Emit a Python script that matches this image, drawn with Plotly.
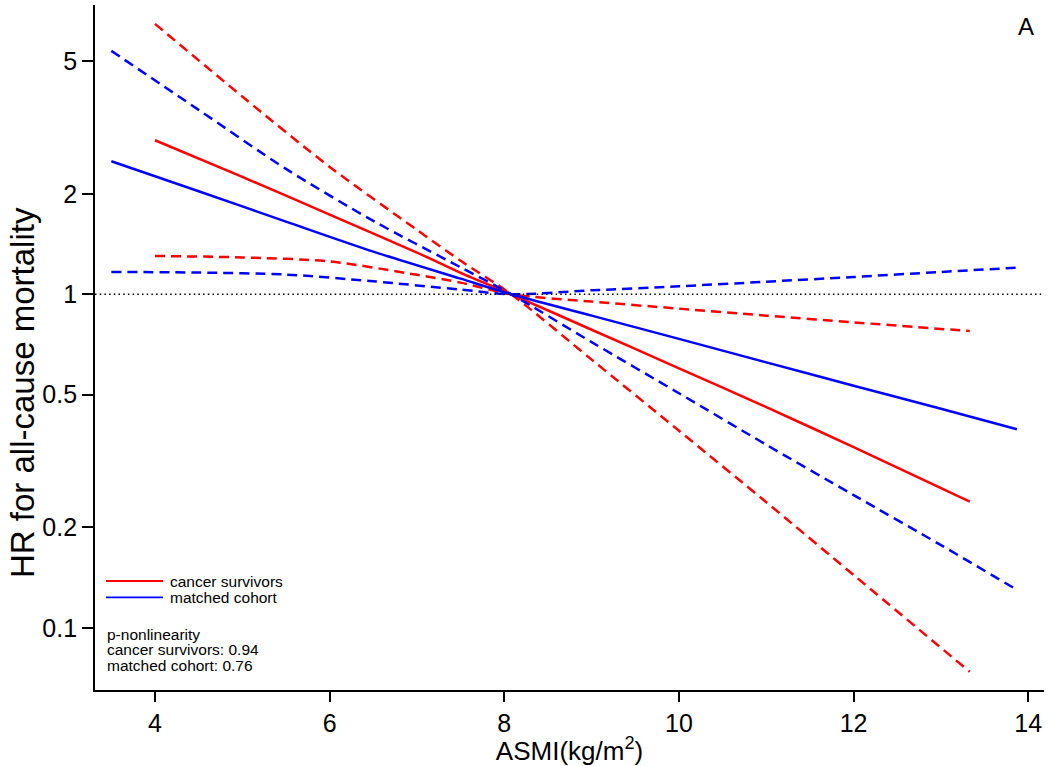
import plotly.graph_objects as go
import numpy as np

# ---------------- data ----------------
# cancer survivors (red)
cs_x = [4.0, 5.0, 6.0, 7.0, 7.5, 8.08, 9.0, 10.0, 11.0, 12.0, 13.33]
cs_hr = [2.897, 2.249, 1.734, 1.334, 1.160, 1.0, 0.783, 0.600, 0.459, 0.348, 0.239]
cs_ci_steep = [6.47, 3.917, 2.41, 1.56, 1.26, 1.0, 0.637, 0.390, 0.238, 0.144, 0.0738]
cs_ci_flat = [1.303, 1.290, 1.255, 1.144, 1.084, 1.0, 0.951, 0.906, 0.863, 0.824, 0.776]

# matched cohort (blue)
mc_x = [3.5, 4.5, 5.5, 6.5, 7.5, 8.08, 9.0, 10.0, 11.0, 12.0, 13.0, 13.87]
mc_hr = [2.506, 2.037, 1.652, 1.343, 1.114, 1.0, 0.863, 0.735, 0.625, 0.532, 0.454, 0.394]
mc_ci_steep = [5.37, 3.573, 2.377, 1.660, 1.205, 1.0, 0.719, 0.505, 0.354, 0.250, 0.177, 0.130]
mc_ci_flat = [1.167, 1.162, 1.146, 1.094, 1.033, 1.0, 1.028, 1.057, 1.091, 1.127, 1.167, 1.202]

series_names = ["cancer survivors", "matched cohort"]
series_colors = ["#FF0000", "#0000FF"]
p_nonlinearity = [0.94, 0.76]

x_ticks = [4, 6, 8, 10, 12, 14]
y_ticks = [0.1, 0.2, 0.5, 1, 2, 5]
y_ticktext = ["0.1", "0.2", "0.5", "1", "2", "5"]

x_range = [3.313, 14.18]
y_range = [0.0651, 7.37]

FONT = "Arial, Liberation Sans, sans-serif"

fig = go.Figure()

dash_style = "10px,6px"
for xs, hr, steep, flat, name, col in [
    (cs_x, cs_hr, cs_ci_steep, cs_ci_flat, series_names[0], series_colors[0]),
    (mc_x, mc_hr, mc_ci_steep, mc_ci_flat, series_names[1], series_colors[1]),
]:
    fig.add_trace(go.Scatter(x=xs, y=steep, mode="lines", line=dict(color=col, width=2.5, dash=dash_style, shape="spline", smoothing=0.8),
                             showlegend=False, hoverinfo="skip"))
    fig.add_trace(go.Scatter(x=xs, y=flat, mode="lines", line=dict(color=col, width=2.5, dash=dash_style, shape="spline", smoothing=0.8),
                             showlegend=False, hoverinfo="skip"))
    fig.add_trace(go.Scatter(x=xs, y=hr, mode="lines", name=name, line=dict(color=col, width=2.5, shape="spline", smoothing=0.8),
                             showlegend=False))

# reference line at HR = 1
fig.add_hline(y=1, line=dict(color="black", width=1.6, dash="1.5px,3.2px"))

# plot-area geometry (pixels) for placing the manual legend / text
L, R, T, B = 95, 6, 5, 76
W, H = 1050, 766
pw, ph = W - L - R, H - T - B


def px2paper(px, py):
    return (px - L) / pw, (H - B - py) / ph


# manual legend
for i, (name, col) in enumerate(zip(series_names, series_colors)):
    yline = 581 + i * 16.3
    x0, y0 = px2paper(106, yline)
    x1, _ = px2paper(163, yline)
    fig.add_shape(type="line", xref="paper", yref="paper", x0=x0, x1=x1, y0=y0, y1=y0,
                  line=dict(color=col, width=1.8))
    tx, ty = px2paper(168, yline)
    fig.add_annotation(xref="paper", yref="paper", x=tx, y=ty, text=name, showarrow=False,
                       xanchor="left", yanchor="middle", font=dict(family=FONT, size=15.5, color="black"))

p_lines = ["p-nonlinearity"] + [f"{n}: {v:.2f}" for n, v in zip(series_names, p_nonlinearity)]
for i, s in enumerate(p_lines):
    tx, ty = px2paper(105, 634.3 + i * 15.4)
    fig.add_annotation(xref="paper", yref="paper", x=tx, y=ty, text=s, showarrow=False,
                       xanchor="left", yanchor="middle", font=dict(family=FONT, size=15.5, color="black"))

# panel label
tx, ty = px2paper(1026, 26)
fig.add_annotation(xref="paper", yref="paper", x=tx, y=ty, text="A", showarrow=False,
                   xanchor="center", yanchor="middle", font=dict(family=FONT, size=24, color="black"))

# y-axis title (placed as in the reference, below the plot centre)
tx, ty = px2paper(22, 393)
fig.add_annotation(xref="paper", yref="paper", x=tx, y=ty, text="HR for all-cause mortality", showarrow=False,
                   textangle=-90, xanchor="center", yanchor="middle", font=dict(family=FONT, size=33, color="black"))

fig.update_layout(
    width=W, height=H,
    margin=dict(l=L, r=R, t=T, b=B, pad=0),
    paper_bgcolor="white", plot_bgcolor="white",
    showlegend=False,
    font=dict(family=FONT, color="black"),
    xaxis=dict(
        range=x_range, tickvals=x_ticks, ticks="outside", ticklen=10, tickwidth=1.5, tickcolor="black",
        showline=True, linecolor="black", linewidth=1.8, showgrid=False, zeroline=False, mirror=False,
        tickfont=dict(family=FONT, size=25, color="black"),
        title=dict(text="ASMI(kg/m<sup>2</sup>)", font=dict(family=FONT, size=26, color="black"), standoff=0),
    ),
    yaxis=dict(
        type="log", range=[np.log10(y_range[0]), np.log10(y_range[1])],
        tickvals=y_ticks, ticktext=y_ticktext, ticks="outside", ticklen=11, tickwidth=1.5, tickcolor="black",
        showline=True, linecolor="black", linewidth=1.8, showgrid=False, zeroline=False, mirror=False,
        tickfont=dict(family=FONT, size=25, color="black"),
    ),
)

fig.write_html("out.html", config={"displayModeBar": False},
               post_script="document.body.style.margin='0px';document.body.style.overflow='hidden';")
